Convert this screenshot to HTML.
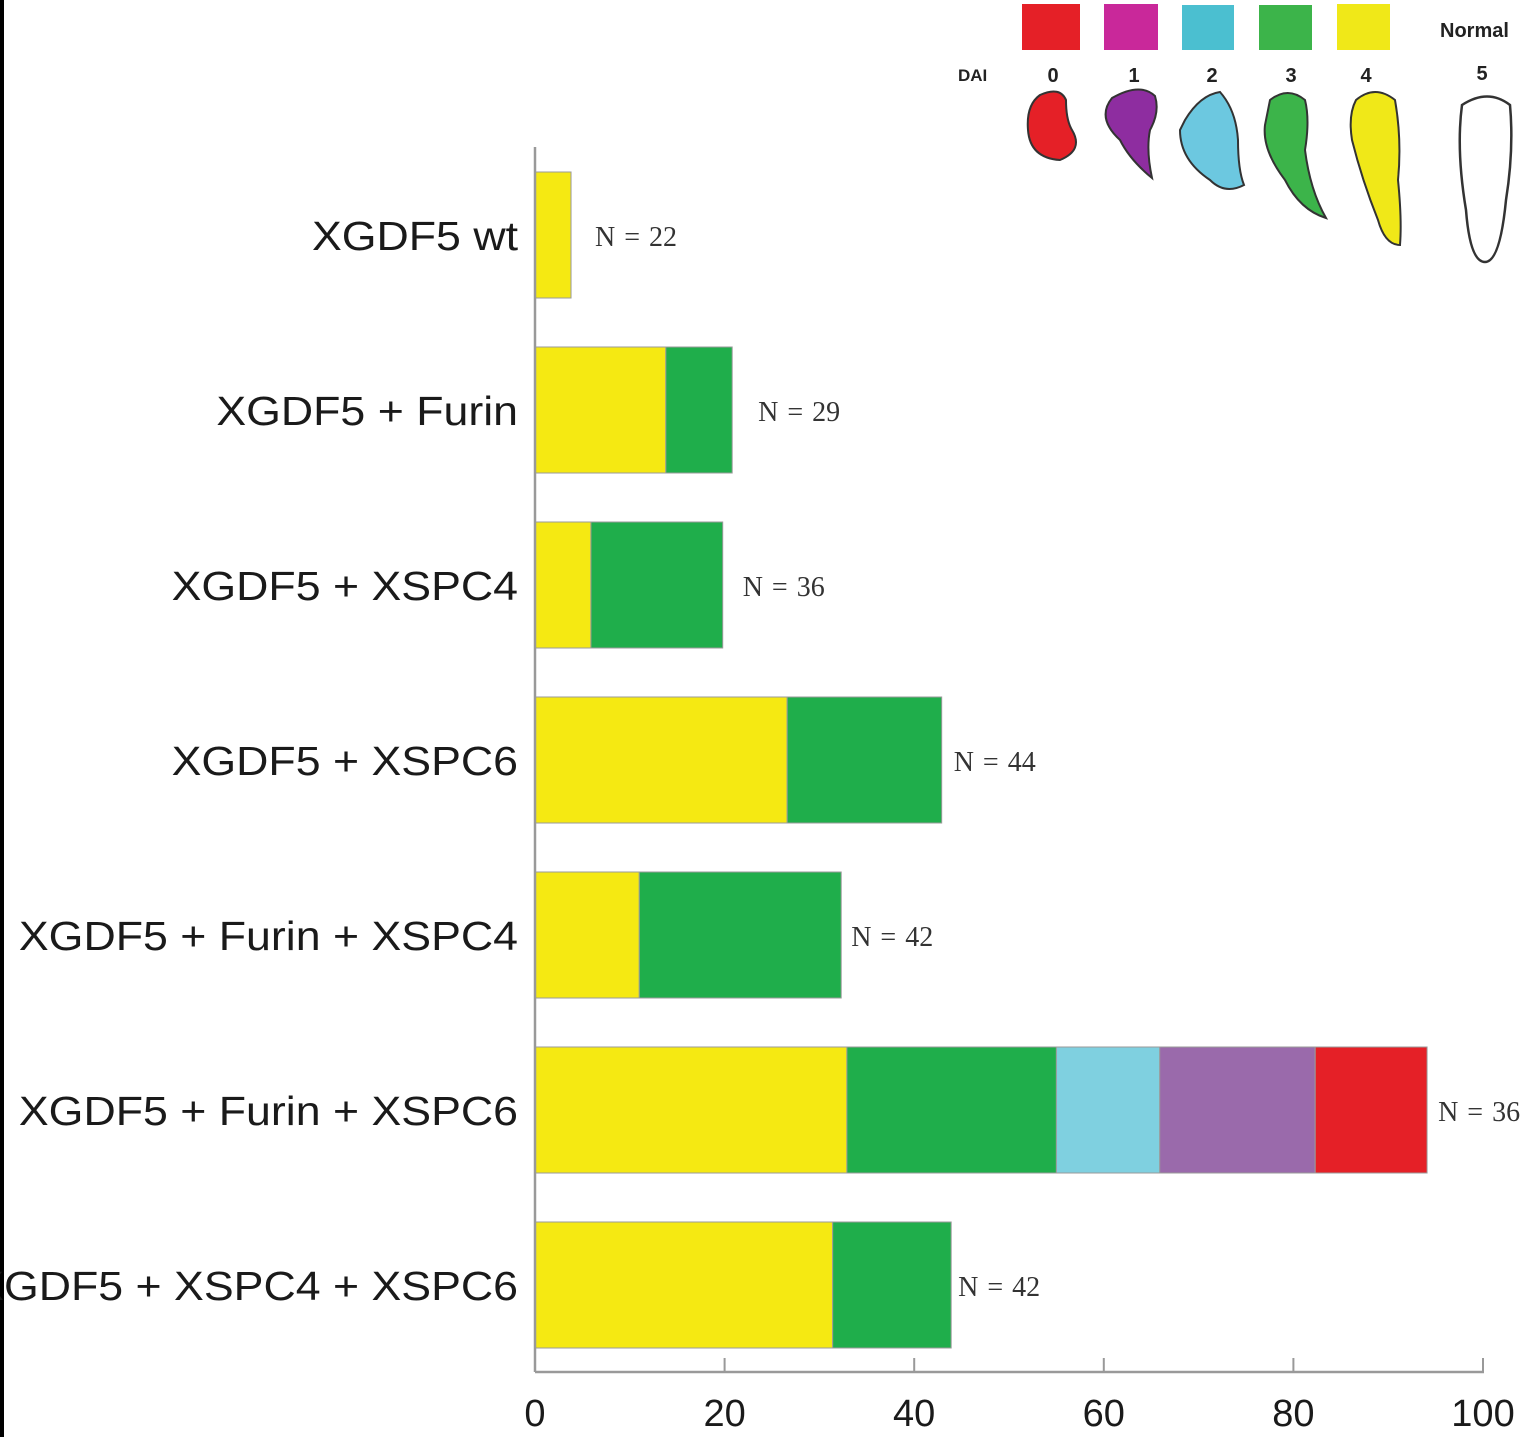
<!DOCTYPE html>
<html><head><meta charset="utf-8"><style>
html,body{margin:0;padding:0;background:#fff;}
svg{display:block;}
</style></head><body>
<svg id="chart" width="1529" height="1437" viewBox="0 0 1529 1437" xmlns="http://www.w3.org/2000/svg">
<rect x="0" y="0" width="4" height="1437" fill="#000"/>
<g id="legend">
  <rect x="1022" y="4" width="58" height="46" fill="#e52027"/>
  <rect x="1104" y="4" width="54" height="46" fill="#c9289a"/>
  <rect x="1182" y="5" width="52" height="45" fill="#4bbfd0"/>
  <rect x="1259" y="5" width="53" height="45" fill="#3cb44a"/>
  <rect x="1337" y="4" width="53" height="46" fill="#f0e818"/>
  <text x="1440" y="37" font-family="Liberation Sans, sans-serif" font-size="20" font-weight="bold" fill="#222">Normal</text>
  <text x="958" y="81" font-family="Liberation Sans, sans-serif" font-size="17" font-weight="bold" fill="#222">DAI</text>
  <g font-family="Liberation Sans, sans-serif" font-size="20" font-weight="bold" fill="#222" text-anchor="middle">
    <text x="1053" y="82">0</text>
    <text x="1134" y="82">1</text>
    <text x="1212" y="82">2</text>
    <text x="1291" y="82">3</text>
    <text x="1366" y="82">4</text>
    <text x="1482" y="80">5</text>
  </g>
  <path d="M1040 95 Q1060 86 1066 100 Q1066 120 1072 130 Q1084 150 1060 160 Q1030 158 1028 130 Q1026 105 1040 95Z" fill="#e52027" stroke="#333" stroke-width="2"/>
  <path d="M1112 98 Q1140 82 1155 96 Q1160 112 1150 130 Q1146 150 1152 178 Q1130 160 1120 140 Q1096 118 1112 98Z" fill="#8e2da0" stroke="#333" stroke-width="2"/>
  <path d="M1185 120 Q1200 95 1220 92 Q1236 110 1238 140 Q1238 170 1244 185 Q1225 195 1210 180 Q1180 160 1180 130Z" fill="#6cc8e0" stroke="#333" stroke-width="2"/>
  <path d="M1270 100 Q1288 86 1305 100 Q1310 120 1305 150 Q1310 190 1326 218 Q1300 210 1285 180 Q1262 150 1265 125Z" fill="#3cb44a" stroke="#333" stroke-width="2"/>
  <path d="M1356 100 Q1375 84 1395 100 Q1402 140 1398 180 Q1402 220 1400 245 Q1385 245 1378 220 Q1362 180 1352 140 Q1348 115 1356 100Z" fill="#f0e818" stroke="#333" stroke-width="2"/>
  <path d="M1462 105 Q1488 88 1510 105 Q1514 150 1506 200 Q1500 262 1485 262 Q1470 262 1466 210 Q1456 150 1462 105Z" fill="#fff" stroke="#333" stroke-width="2.5"/>
</g>
<g id="plot"></g>
</svg>
<script>
const categories = ["XGDF5 wt","XGDF5 + Furin","XGDF5 + XSPC4","XGDF5 + XSPC6","XGDF5 + Furin + XSPC4","XGDF5 + Furin + XSPC6","XGDF5 + XSPC4 + XSPC6"];
const nLabels = ["N = 22","N = 29","N = 36","N = 44","N = 42","N = 36","N = 42"];
const dai4 = [3.8, 13.8, 5.9, 26.6, 11.0, 32.9, 31.4];
const dai3 = [0, 7.0, 13.9, 16.3, 21.3, 22.1, 12.5];
const dai2 = [0, 0, 0, 0, 0, 10.9, 0];
const dai1 = [0, 0, 0, 0, 0, 16.4, 0];
const dai0 = [0, 0, 0, 0, 0, 11.8, 0];
const xTicks = [0, 20, 40, 60, 80, 100];
// label gap after bar end (layout only)
const nGap = [24, 26, 20, 12, 10, 11, 7];

const NS = "http://www.w3.org/2000/svg";
const plot = document.getElementById('plot');
const x0 = 535, x1 = 1483, baseY = 1372, topY = 147;
const rowTop = 172, rowStep = 175, barH = 126;
function xs(v){ return x0 + (x1 - x0) * v / 100; }
function yRow(i){ return rowTop + i * rowStep; }
function mk(tag, attrs){ const e = document.createElementNS(NS, tag); for (const k in attrs) e.setAttribute(k, attrs[k]); plot.appendChild(e); return e; }

const series = [
  {vals: dai4, color: "#f5e912", name: "dai-4"},
  {vals: dai3, color: "#1fae4b", name: "dai-3"},
  {vals: dai2, color: "#7fd0e0", name: "dai-2"},
  {vals: dai1, color: "#9a6aab", name: "dai-1"},
  {vals: dai0, color: "#e52027", name: "dai-0"}
];

categories.forEach((c, i) => {
  let cum = 0;
  series.forEach(s => {
    const v = s.vals[i];
    if (v > 0) {
      const r = mk('rect', {x: xs(cum), y: yRow(i), width: xs(cum + v) - xs(cum), height: barH, fill: s.color, stroke: "#9a9a9a", "stroke-width": 1});
      
      
    }
    cum += v;
  });
  const ly = yRow(i) + barH / 2 + 15;
  const lbl = mk('text', {x: 0, y: 0, "text-anchor": "end", "font-family": "Liberation Sans, sans-serif", "font-size": 41, fill: "#1a1a1a", transform: "translate(518," + ly + ") scale(1.09,1)"});
  lbl.textContent = c;
  
  
  const n = mk('text', {x: xs(cum) + nGap[i], y: yRow(i) + barH / 2 + 11, "font-family": "Liberation Serif, serif", "font-size": 28, fill: "#333", "word-spacing": "2"});
  n.textContent = nLabels[i];
  
  
});

const ya = mk('line', {x1: x0, y1: topY, x2: x0, y2: baseY, stroke: "#999", "stroke-width": 2.5});


const xa = mk('line', {x1: x0, y1: baseY, x2: x1 + 1, y2: baseY, stroke: "#999", "stroke-width": 2.5});


xTicks.forEach(t => {
  const tk = mk('line', {x1: xs(t), y1: baseY, x2: xs(t), y2: baseY - 14, stroke: "#999", "stroke-width": 2});
  
  
  const tl = mk('text', {x: xs(t), y: 1426, "text-anchor": "middle", "font-family": "Liberation Sans, sans-serif", "font-size": 38, fill: "#1a1a1a"});
  tl.textContent = t;
  
  
});
</script>
</body></html>
